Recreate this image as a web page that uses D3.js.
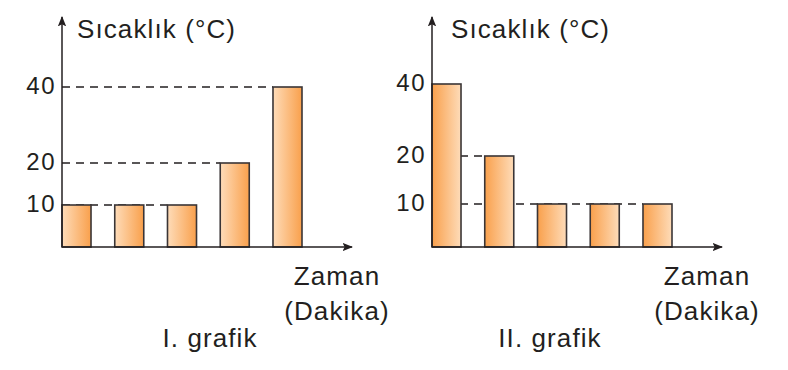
<!DOCTYPE html>
<html>
<head>
<meta charset="utf-8">
<script src="https://cdn.jsdelivr.net/npm/d3@7"></script>
<style>
  body { margin: 0; background: #fff; }
  text { font-family: "Liberation Sans", Arial, sans-serif; fill: #231f20; }
</style>
</head>
<body>
<div id="chart"></div>
<script>
// data
var minutes = [1, 2, 3, 4, 5];
var tempsI = [10, 10, 10, 20, 40];
var tempsII = [40, 20, 10, 10, 10];
var tickValues = [10, 20, 40];
var yTitle = "Sıcaklık (°C)";
var xTitle = ["Zaman", "(Dakika)"];
var captions = ["I. grafik", "II. grafik"];

var width = 788, height = 370;

var svg = d3.select("#chart").append("svg")
    .attr("width", width)
    .attr("height", height);

var defs = svg.append("defs");

defs.append("marker")
    .attr("id", "arrow")
    .attr("viewBox", "0 0 10 10")
    .attr("refX", 9).attr("refY", 5)
    .attr("markerWidth", 7).attr("markerHeight", 7)
    .attr("markerUnits", "strokeWidth")
    .attr("orient", "auto")
  .append("path")
    .attr("d", "M0,1 L10,5 L0,9 L2,5 Z")
    .attr("fill", "#231f20");

// one gradient per direction
function gradient(id, flip) {
  var g = defs.append("linearGradient").attr("id", id)
      .attr("x1", "0%").attr("x2", "100%");
  g.append("stop").attr("offset", "0%").attr("stop-color", flip ? "#f9a04c" : "#fedcb9");
  g.append("stop").attr("offset", "100%").attr("stop-color", flip ? "#fedcb9" : "#f9a04c");
}
gradient("gradI", false);
gradient("gradII", true);

var charts = [
  { values: tempsI, x0: 62, grad: "gradI", yRange: [247, 205, 163, 87], caption: captions[0], capX: 148, titleX: 15 },
  { values: tempsII, x0: 432, grad: "gradII", yRange: [247, 204, 156, 84], caption: captions[1], capX: 118, titleX: 19 }
];

charts.forEach(function(c) {
  var g = svg.append("g");

  var x = d3.scaleBand()
      .domain(minutes)
      .range([c.x0, c.x0 + 240])
      .paddingInner(0.45)
      .paddingOuter(0)
      .align(0);

  // hand-drawn axis in the source is not quite proportional
  var y = d3.scaleLinear()
      .domain([0, 10, 20, 40])
      .range(c.yRange);

  // dashed guide lines, from the axis to the bar reaching that value
  tickValues.forEach(function(t) {
    var idx = c.values.findIndex(function(v) { return v === t; });
    var lastIdx = -1;
    c.values.forEach(function(v, i) { if (v === t) lastIdx = i; });
    var end = (c.values[0] === t && t !== 10) ? null : x(minutes[t === 10 ? lastIdx : idx]);
    if (end == null || end <= c.x0) return;
    g.append("line")
      .attr("x1", c.x0).attr("x2", end)
      .attr("y1", y(t)).attr("y2", y(t))
      .attr("stroke", "#231f20")
      .attr("stroke-width", 1.3)
      .attr("stroke-dasharray", "8,6");
  });

  // bars
  g.selectAll(".bar")
    .data(c.values)
    .enter().append("rect")
      .attr("class", "bar")
      .attr("x", function(d, i) { return x(minutes[i]); })
      .attr("y", function(d) { return y(d); })
      .attr("width", x.bandwidth())
      .attr("height", function(d) { return y(0) - y(d); })
      .attr("fill", "url(#" + c.grad + ")")
      .attr("stroke", "#3a3536")
      .attr("stroke-width", 1.6);

  // axes
  g.append("line")
    .attr("x1", c.x0).attr("x2", c.x0)
    .attr("y1", y(0)).attr("y2", 17)
    .attr("stroke", "#231f20")
    .attr("stroke-width", 1.5)
    .attr("marker-end", "url(#arrow)");

  g.append("line")
    .attr("x1", c.x0).attr("x2", c.x0 + 290)
    .attr("y1", y(0)).attr("y2", y(0))
    .attr("stroke", "#231f20")
    .attr("stroke-width", 1.5)
    .attr("marker-end", "url(#arrow)");

  // tick labels
  g.selectAll(".tick-label")
    .data(tickValues)
    .enter().append("text")
      .attr("class", "tick-label")
      .attr("x", c.x0 - 6)
      .attr("y", function(d) { return y(d) - 2; })
      .attr("dy", "0.36em")
      .attr("text-anchor", "end")
      .attr("font-size", 24)
      .attr("letter-spacing", 1.5)
      .text(function(d) { return d; });

  g.append("text")
    .attr("x", c.x0 + c.titleX)
    .attr("y", 38)
    .attr("font-size", 26)
    .attr("letter-spacing", 1.1)
    .text(yTitle);

  g.selectAll(".x-title")
    .data(xTitle)
    .enter().append("text")
      .attr("class", "x-title")
      .attr("x", c.x0 + 275)
      .attr("y", function(d, i) { return 285 + i * 35; })
      .attr("text-anchor", "middle")
      .attr("font-size", 26)
      .attr("letter-spacing", 1.1)
      .text(function(d) { return d; });

  g.append("text")
    .attr("x", c.x0 + c.capX)
    .attr("y", 347)
    .attr("text-anchor", "middle")
    .attr("font-size", 26)
    .attr("letter-spacing", 1.1)
    .text(c.caption);
});
</script>
</body>
</html>
